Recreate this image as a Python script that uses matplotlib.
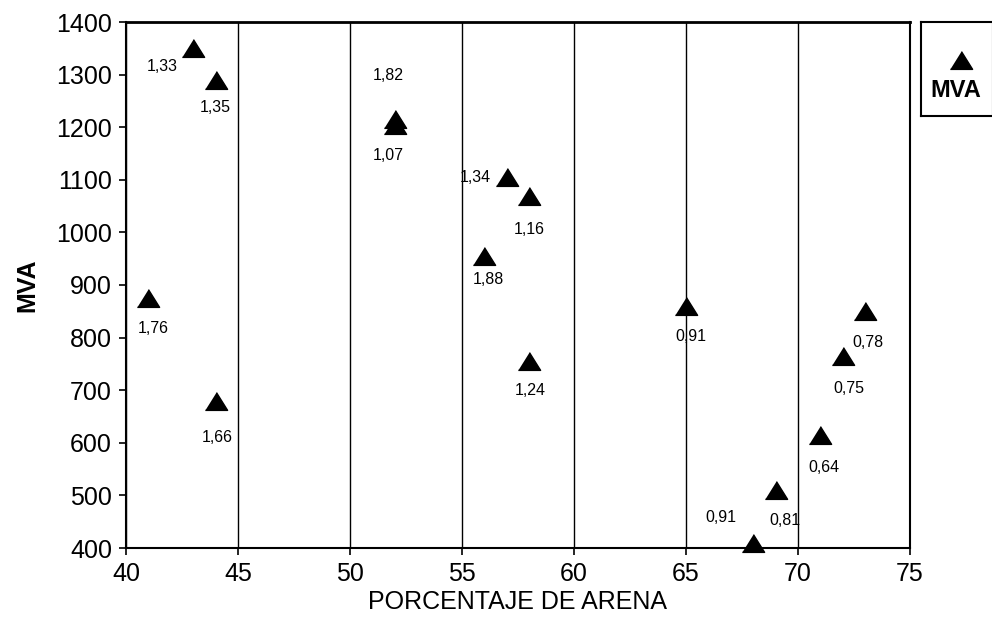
import matplotlib
matplotlib.use("Agg")
import matplotlib.pyplot as plt

plt.rcParams["font.family"] = ["Liberation Sans", "DejaVu Sans"]

# porcentaje de arena, MVA, etiqueta
arena = [41, 43, 44, 44, 52, 52, 57, 58, 56, 58, 65, 68, 69, 71, 72, 73]
mva = [875, 1350, 1290, 680, 1205, 1215, 1105, 1070, 955, 755, 860, 410, 510, 615, 765, 850]
etiquetas = ["1,76", "1,33", "1,35", "1,66", "1,07", "1,82", "1,34", "1,16",
             "1,88", "1,24", "0,91", "0,91", "0,81", "0,64", "0,75", "0,78"]
# offsets of each label in pixels (dx, dy down positive)
offsets_px = [(5, 30), (-31, 18), (0, 28), (2, 37), (-7, 31), (-7, -44), (-31, 0), (0, 34),
              (4, 23), (1, 29), (5, 30), (-32, -25), (9, 30), (4, 33), (6, 32), (3, 31)]

tri = [(-1, -0.8), (1, -0.8), (0, 0.8)]

fig = plt.figure(figsize=(9.92, 6.28), dpi=100)
ax = fig.add_axes([126 / 992, 80 / 628, 784 / 992, 526 / 628])

ax.plot(arena, mva, linestyle="none", marker=tri, markersize=16, color="black", clip_on=False, zorder=3)

for x, y, t, (dx, dy) in zip(arena, mva, etiquetas, offsets_px):
    ax.annotate(t, (x, y), xytext=(dx / 1.389, -dy / 1.389), textcoords="offset points",
                ha="center", va="center", fontsize=11.5)

ax.set_xlim(40, 75)
ax.set_ylim(400, 1400)
ax.set_xticks(range(40, 76, 5))
ax.set_yticks(range(400, 1401, 100))
ax.tick_params(labelsize=18, length=5, width=1.2, direction="out")
ax.tick_params(axis="y", pad=5)
ax.tick_params(axis="x", pad=5)
ax.grid(axis="x", color="black", linewidth=1)
ax.set_axisbelow(True)
for s in ax.spines.values():
    s.set_linewidth(1.5)
ax.spines["top"].set_linewidth(2)

ax.set_xlabel("PORCENTAJE DE ARENA", fontsize=18, labelpad=3)
ax.set_ylabel("MVA", fontsize=18, fontweight="bold", labelpad=12)

# legend box at the right
lax = fig.add_axes([921 / 992, (628 - 116) / 628, 72 / 992, 94 / 628])
lax.set_xlim(0, 1)
lax.set_ylim(0, 1)
lax.set_xticks([])
lax.set_yticks([])
for s in lax.spines.values():
    s.set_linewidth(1.5)
lax.plot([0.55], [0.6], linestyle="none", marker=tri, markersize=16, color="black")
lax.text(0.48, 0.27, "MVA", ha="center", va="center", fontsize=17, fontweight="bold")

fig.savefig("out.png", dpi=100)
